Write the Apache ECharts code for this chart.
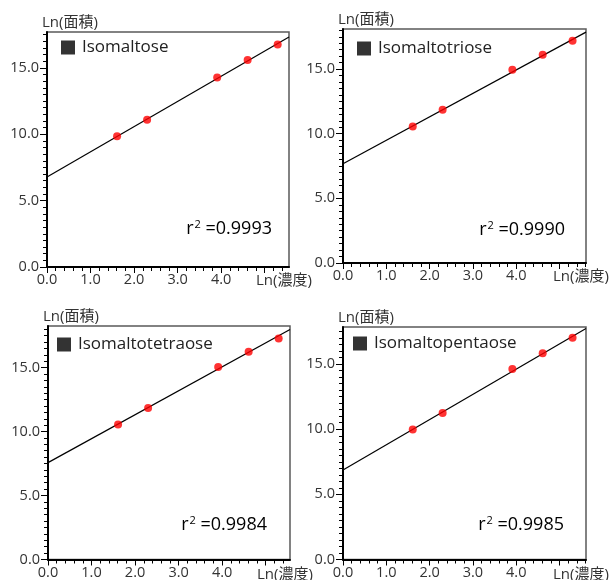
<!DOCTYPE html>
<html>
<head>
<meta charset="utf-8">
<script src="https://cdn.jsdelivr.net/npm/echarts@6/dist/echarts.min.js"></script>
<style>
  html, body { margin: 0; padding: 0; background: #fff; }
  #chart { width: 612px; height: 580px; }
</style>
</head>
<body>
<div id="chart"></div>
<script>
// Calibration curves of isomalto-oligosaccharides: Ln(peak area) vs Ln(concentration)
const sugarNames = ['Isomaltose', 'Isomaltotriose', 'Isomaltotetraose', 'Isomaltopentaose'];
const lnConc = [1.61, 2.30, 3.91, 4.61, 5.30];
const lnAreaIsomaltose = [9.85, 11.10, 14.27, 15.60, 16.76];
const lnAreaIsomaltotriose = [10.56, 11.86, 14.95, 16.10, 17.20];
const lnAreaIsomaltotetraose = [10.55, 11.84, 15.05, 16.24, 17.28];
const lnAreaIsomaltopentaose = [9.98, 11.25, 14.63, 15.83, 17.02];
// regression lines: start point (x = 0) and end point (right edge of the plot)
const fitIsomaltose = [[0, 6.78], [5.56, 17.33]];
const fitIsomaltotriose = [[0, 7.68], [5.61, 17.86]];
const fitIsomaltotetraose = [[0, 7.57], [5.56, 17.98]];
const fitIsomaltopentaose = [[0, 6.87], [5.61, 17.74]];
const rSquared = ['0.9993', '0.9990', '0.9984', '0.9985'];
const xAxisMax = [5.56, 5.61, 5.56, 5.61];
const yAxisMax = [17.7, 18.1, 18.25, 17.85];
const xTickLabels = [0, 1, 2, 3, 4];
const xMajorTicks = [0, 1, 2, 3, 4, 5];
const yTickLabels = [0, 5, 10, 15];
const xAxisTitle = 'Ln(濃度)';
const yAxisTitle = 'Ln(面積)';

const areaSets = [lnAreaIsomaltose, lnAreaIsomaltotriose, lnAreaIsomaltotetraose, lnAreaIsomaltopentaose];
const fitSets = [fitIsomaltose, fitIsomaltotriose, fitIsomaltotetraose, fitIsomaltopentaose];

// panel placement (pixels)
const panels = [
  { left: 47,  top: 32,  width: 242, height: 235, legendX: 61,  legendY: 47,  r2X: 272, r2Y: 229 },
  { left: 343, top: 29,  width: 243, height: 234, legendX: 357, legendY: 48,  r2X: 565, r2Y: 230 },
  { left: 48,  top: 326, width: 242, height: 235, legendX: 57,  legendY: 344, r2X: 267, r2Y: 525 },
  { left: 343, top: 327, width: 243, height: 234, legendX: 353, legendY: 343, r2X: 564, r2Y: 525 }
];

const FONT = "'Open Sans', 'Noto Sans CJK JP', sans-serif";
const TEXT = '#333';

function minorValues(max, step, majorStep) {
  const out = [];
  for (let k = 1; k * step <= max + 1e-9; k++) {
    const v = +(k * step).toFixed(3);
    if (Math.abs(v / majorStep - Math.round(v / majorStep)) > 1e-6) out.push(v);
  }
  return out;
}

const grid = [], xAxis = [], yAxis = [], series = [], legend = [], graphic = [];

panels.forEach((p, i) => {
  grid.push({
    left: p.left, top: p.top, width: p.width, height: p.height,
    show: true, borderColor: '#5a5a5a', borderWidth: 1.5, backgroundColor: 'transparent'
  });
  // major x axis (labels + long ticks)
  xAxis.push({
    gridIndex: i, type: 'value', position: 'bottom', min: 0, max: xAxisMax[i],
    splitLine: { show: false },
    axisLine: { show: true, onZero: false, lineStyle: { color: '#000', width: 2 } },
    axisTick: { show: true, inside: false, length: 6, customValues: xMajorTicks, lineStyle: { color: '#000', width: 1 } },
    axisLabel: { show: true, customValues: xTickLabels, margin: 6, fontSize: 14.5, fontFamily: FONT, color: TEXT,
                 formatter: v => v.toFixed(1) }
  });
  // minor x ticks
  xAxis.push({
    gridIndex: i, type: 'value', position: 'bottom', min: 0, max: xAxisMax[i],
    splitLine: { show: false },
    axisLine: { show: false },
    axisTick: { show: true, inside: false, length: 4, customValues: minorValues(xAxisMax[i], 0.2, 1), lineStyle: { color: '#000', width: 1 } },
    axisLabel: { show: false }
  });
  // major y axis
  yAxis.push({
    gridIndex: i, type: 'value', position: 'left', min: 0, max: yAxisMax[i],
    splitLine: { show: false },
    axisLine: { show: true, onZero: false, lineStyle: { color: '#000', width: 2 } },
    axisTick: { show: true, inside: false, length: 7, customValues: yTickLabels, lineStyle: { color: '#000', width: 1 } },
    axisLabel: { show: true, customValues: yTickLabels, margin: 8, fontSize: 14.5, fontFamily: FONT, color: TEXT,
                 formatter: v => v.toFixed(1) }
  });
  // minor y ticks
  yAxis.push({
    gridIndex: i, type: 'value', position: 'left', min: 0, max: yAxisMax[i],
    splitLine: { show: false },
    axisLine: { show: false },
    axisTick: { show: true, inside: false, length: 4, customValues: minorValues(yAxisMax[i], 0.5, 5), lineStyle: { color: '#000', width: 1 } },
    axisLabel: { show: false }
  });

  series.push({
    name: 'fit-' + i, type: 'line', xAxisIndex: 2 * i, yAxisIndex: 2 * i,
    data: fitSets[i], showSymbol: false, silent: true, z: 2,
    lineStyle: { color: '#000', width: 1.2 }
  });
  series.push({
    name: sugarNames[i], type: 'scatter', xAxisIndex: 2 * i, yAxisIndex: 2 * i,
    data: lnConc.map((x, k) => [x, areaSets[i][k]]),
    symbol: 'circle', symbolSize: 8, z: 3,
    itemStyle: { color: '#ff0000' }
  });

  legend.push({
    left: p.legendX, top: p.legendY - 8, padding: 0, selectedMode: false,
    itemWidth: 14, itemHeight: 14,
    data: [{ name: sugarNames[i], icon: 'rect', itemStyle: { color: '#000' } }],
    textStyle: { fontSize: 17, fontFamily: FONT, color: '#222', padding: [0, 0, 0, 2] }
  });

  graphic.push({
    type: 'text', left: p.left - 5, top: p.top - 17,
    style: { text: yAxisTitle, fontSize: 15, fontFamily: FONT, fill: TEXT }
  });
  graphic.push({
    type: 'text', left: p.left + p.width - 33, top: p.top + p.height + 6,
    style: { text: xAxisTitle, fontSize: 15, fontFamily: FONT, fill: TEXT }
  });
  graphic.push({
    type: 'text', x: p.r2X, y: p.r2Y,
    style: {
      text: '{r|r}{s|2}{r| =' + rSquared[i] + '}',
      align: 'right', verticalAlign: 'middle',
      rich: {
        r: { fontSize: 18, fontFamily: FONT, color: TEXT },
        s: { fontSize: 11, fontFamily: FONT, color: TEXT, verticalAlign: 'bottom', padding: [0, 0, 8, 1] }
      }
    }
  });
});

const chart = echarts.init(document.getElementById('chart'), null, { renderer: 'canvas' });
chart.setOption({
  animation: false,
  backgroundColor: '#fff',
  grid, xAxis, yAxis, series, legend, graphic
});
</script>
</body>
</html>
